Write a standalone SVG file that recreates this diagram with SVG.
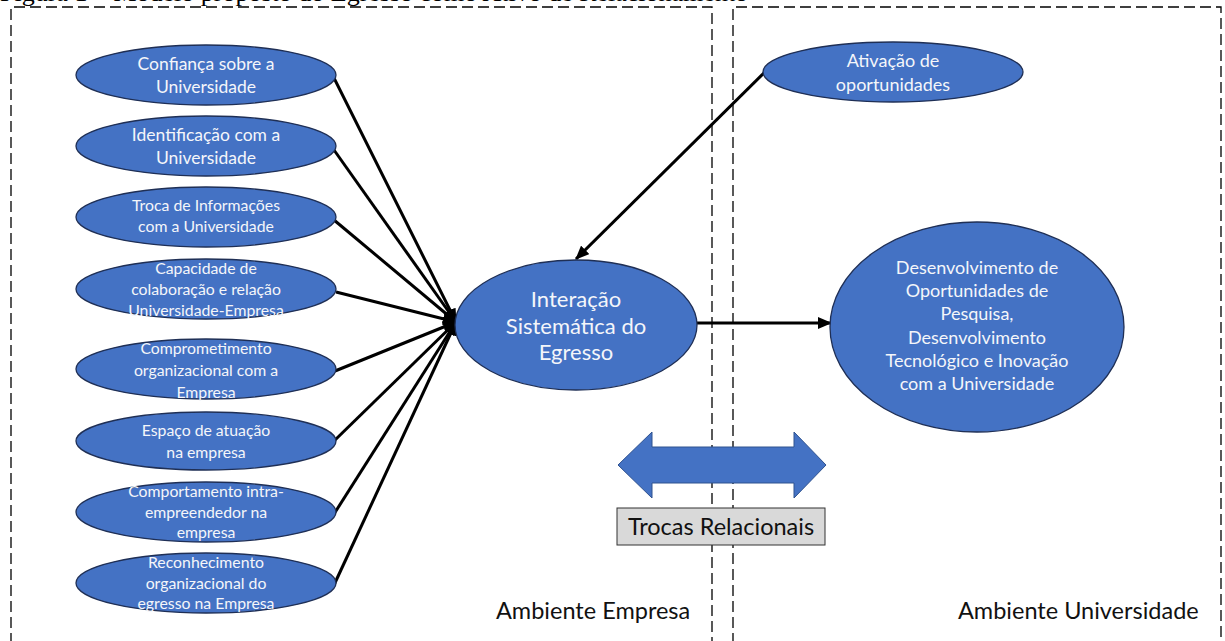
<svg xmlns="http://www.w3.org/2000/svg" width="1225" height="641" viewBox="0 0 1225 641">
<defs>
<marker id="ah" markerUnits="userSpaceOnUse" markerWidth="14" markerHeight="12" viewBox="0 0 14 12" refX="13" refY="6" orient="auto">
<path d="M0,0 L14,6 L0,12 z" fill="#000"/>
</marker>
<style>
.bx{fill:none;stroke:#000;stroke-width:1.3;stroke-dasharray:11 5}
.el{fill:#4472C4;stroke:#1F2F55;stroke-width:1.3}
.t{font-family:Lato,"Open Sans","Liberation Sans",sans-serif;fill:#F4F6FA;text-anchor:middle}
.s16{font-size:17.5px}
.s15{font-size:15.8px}
.s18{font-size:18px}
.s20{font-size:22px}
.lbl{font-family:Lato,"Open Sans","Liberation Sans",sans-serif;font-size:23.5px;fill:#111}
.cn{stroke:#000;stroke-width:3;fill:none}
</style>
</defs>
<rect width="1225" height="641" fill="#fff"/>
<text x="0" y="1" font-family="'Liberation Serif',serif" font-size="26" fill="#000">Figura 1 – Modelo proposto do Egresso como Ativo de Relacionamento</text>
<g id="regions">
<path class="bx" d="M11,660 L11,7 L712,7 L712,660"/>
<path class="bx" d="M733,660 L733,7 L1221,7 L1221,660"/>
</g>
<g id="connectors">
<line class="cn" x1="334" y1="78" x2="456" y2="322" marker-end="url(#ah)"/>
<line class="cn" x1="334" y1="150" x2="456" y2="322" marker-end="url(#ah)"/>
<line class="cn" x1="334" y1="220" x2="456" y2="322" marker-end="url(#ah)"/>
<line class="cn" x1="336" y1="292" x2="456" y2="322" marker-end="url(#ah)"/>
<line class="cn" x1="335" y1="371" x2="456" y2="322" marker-end="url(#ah)"/>
<line class="cn" x1="334" y1="441" x2="456" y2="322" marker-end="url(#ah)"/>
<line class="cn" x1="334" y1="514" x2="456" y2="322" marker-end="url(#ah)"/>
<line class="cn" x1="334" y1="585" x2="456" y2="322" marker-end="url(#ah)"/>
<line class="cn" x1="766" y1="71" x2="576" y2="259" marker-end="url(#ah)"/>
<line class="cn" x1="697" y1="323" x2="831" y2="323" marker-end="url(#ah)"/>
</g>
<g id="n1"><ellipse class="el" cx="206" cy="75" rx="130" ry="30"/>
<text class="t s16" x="206" y="70">Confiança sobre a</text><text class="t s16" x="206" y="93">Universidade</text></g>
<g id="n2"><ellipse class="el" cx="206" cy="146" rx="130" ry="30"/>
<text class="t s16" x="206" y="141">Identificação com a</text><text class="t s16" x="206" y="164">Universidade</text></g>
<g id="n3"><ellipse class="el" cx="206" cy="217" rx="130" ry="30"/>
<text class="t s15" x="206" y="211">Troca de Informações</text><text class="t s15" x="206" y="232">com a Universidade</text></g>
<g id="n4"><ellipse class="el" cx="206" cy="289" rx="130" ry="30"/>
<text class="t s15" x="206" y="274">Capacidade de</text><text class="t s15" x="206" y="295">colaboração e relação</text><text class="t s15" x="206" y="316">Universidade-Empresa</text></g>
<g id="n5"><ellipse class="el" cx="206" cy="369" rx="130" ry="30"/>
<text class="t s15" x="206" y="354">Comprometimento</text><text class="t s15" x="206" y="376">organizacional com a</text><text class="t s15" x="206" y="398">Empresa</text></g>
<g id="n6"><ellipse class="el" cx="206" cy="441" rx="130" ry="29"/>
<text class="t s15" x="206" y="436">Espaço de atuação</text><text class="t s15" x="206" y="458">na empresa</text></g>
<g id="n7"><ellipse class="el" cx="206" cy="512" rx="130" ry="30"/>
<text class="t s15" x="206" y="497">Comportamento intra-</text><text class="t s15" x="206" y="518">empreendedor na</text><text class="t s15" x="206" y="538">empresa</text></g>
<g id="n8"><ellipse class="el" cx="206" cy="583" rx="130" ry="30"/>
<text class="t s15" x="206" y="568">Reconhecimento</text><text class="t s15" x="206" y="589">organizacional do</text><text class="t s15" x="206" y="609">egresso na Empresa</text></g>
<g id="center"><ellipse class="el" cx="576" cy="325" rx="121" ry="65"/>
<text class="t s20" x="576" y="307">Interação</text><text class="t s20" x="576" y="334">Sistemática do</text><text class="t s20" x="576" y="360">Egresso</text></g>
<g id="ativacao"><ellipse class="el" cx="893" cy="72" rx="130" ry="30"/>
<text class="t s18" x="893" y="67">Ativação de</text><text class="t s18" x="893" y="91">oportunidades</text></g>
<g id="desenvolvimento"><ellipse class="el" cx="977" cy="327" rx="147" ry="105"/>
<text class="t s18" x="977" y="274">Desenvolvimento de</text><text class="t s18" x="977" y="297">Oportunidades de</text><text class="t s18" x="977" y="320">Pesquisa,</text><text class="t s18" x="977" y="344">Desenvolvimento</text><text class="t s18" x="977" y="367">Tecnológico e Inovação</text><text class="t s18" x="977" y="390">com a Universidade</text></g>
<g id="trocas">
<path d="M618,465 L652,432 L652,447 L794,447 L794,432 L826,465 L794,498 L794,483 L652,483 L652,498 z" fill="#4472C4" stroke="#2F528F" stroke-width="1"/>
<rect x="617" y="508" width="208" height="37" fill="#D9D9D9" stroke="#333" stroke-width="1"/>
<text class="lbl" x="721" y="535" text-anchor="middle">Trocas Relacionais</text>
</g>
<text class="lbl" x="496" y="619">Ambiente Empresa</text>
<text class="lbl" x="958" y="619">Ambiente Universidade</text>
</svg>
